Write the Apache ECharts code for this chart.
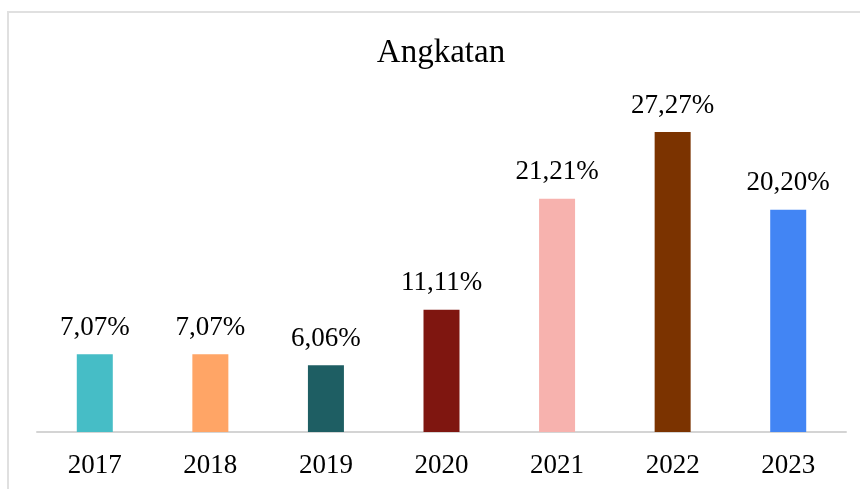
<!DOCTYPE html>
<html>
<head>
<meta charset="utf-8">
<script src="https://cdn.jsdelivr.net/npm/echarts@6/dist/echarts.min.js"></script>
<style>
  html, body { margin: 0; padding: 0; background: #fff; }
  #main { width: 860px; height: 489px; }
</style>
</head>
<body>
<div id="main"></div>
<script>
// data
const years = ['2017', '2018', '2019', '2020', '2021', '2022', '2023'];
const values = [7.07, 7.07, 6.06, 11.11, 21.21, 27.27, 20.20];
const barColors = ['#46bdc6', '#ffa566', '#1e5e63', '#7f1610', '#f7b2ae', '#7b3300', '#4285f4'];

const serif = '"Liberation Serif", "Times New Roman", serif';

const option = {
  animation: false,
  backgroundColor: '#fff',
  title: {
    text: 'Angkatan',
    left: 441,
    textAlign: 'center',
    top: 37,
    padding: 0,
    textStyle: { fontFamily: serif, fontWeight: 'normal', fontSize: 33, color: '#000' }
  },
  graphic: [{
    type: 'rect',
    shape: { x: 8, y: 12, width: 900, height: 520 },
    style: { fill: 'none', stroke: '#e0e0e0', lineWidth: 2 },
    silent: true
  }],
  grid: { left: 37, right: 14, top: 102, bottom: 57 },
  xAxis: {
    type: 'category',
    data: years,
    axisLine: { lineStyle: { color: '#d4d4d4', width: 2 } },
    axisTick: { show: false },
    axisLabel: { margin: 20, fontFamily: serif, fontSize: 27, color: '#000' }
  },
  yAxis: {
    type: 'value',
    min: 0,
    max: 30,
    show: false,
    splitLine: { show: false }
  },
  series: [{
    type: 'bar',
    barWidth: 36,
    data: values.map((v, i) => ({ value: v, itemStyle: { color: barColors[i] } })),
    label: {
      show: true,
      position: 'top',
      distance: 13,
      fontFamily: serif,
      fontSize: 27,
      color: '#000',
      formatter: p => p.value.toFixed(2).replace('.', ',') + '%'
    }
  }]
};

echarts.init(document.getElementById('main')).setOption(option);
</script>
</body>
</html>
